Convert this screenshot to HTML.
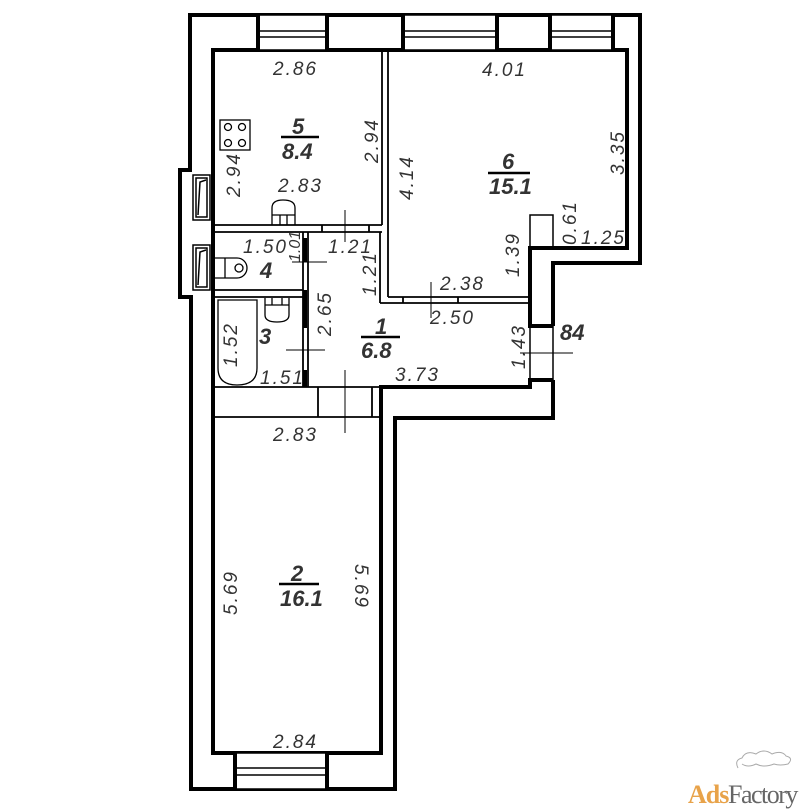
<!DOCTYPE html>
<html><head><meta charset="utf-8"><style>
html,body{margin:0;padding:0;background:#fff;}
svg{display:block;}
text{font-family:"Liberation Sans",sans-serif;font-style:italic;fill:#333;}
.d{font-size:19px;letter-spacing:2px;}
.n{font-size:22px;font-weight:bold;fill:#111;}
</style></head><body>
<svg width="811" height="811" viewBox="0 0 811 811" xmlns="http://www.w3.org/2000/svg">
<g fill="none" stroke="#000" stroke-linejoin="miter">
<!-- outer contour -->
<path d="M553,326 V263 H640 V15 H190 V170 H180 V297 H191 V789 H395 V418 H553 V380" stroke-width="4"/>
<!-- inner contour -->
<path d="M553,326 H530 V248 H627 V50 H213 V753 H381 V387 H530 V380 H553" stroke-width="4"/>
<line x1="530" y1="326" x2="530" y2="380" stroke-width="1.5"/>
<line x1="553" y1="326" x2="553" y2="380" stroke-width="1.5"/>
<rect x="530" y="215" width="23" height="33" stroke-width="1.5"/>
<!-- windows top -->
<g stroke-width="1.5">
<rect x="258" y="15" width="69" height="35" fill="#fff"/>
<line x1="258" y1="31" x2="327" y2="31"/><line x1="258" y1="37" x2="327" y2="37"/>
<rect x="403" y="15" width="94" height="35" fill="#fff"/>
<line x1="403" y1="31" x2="497" y2="31"/><line x1="403" y1="37" x2="497" y2="37"/>
<rect x="550" y="15" width="63" height="35" fill="#fff"/>
<line x1="550" y1="31" x2="613" y2="31"/><line x1="550" y1="37" x2="613" y2="37"/>
</g>
<g stroke-width="4">
<line x1="258" y1="13" x2="258" y2="52"/><line x1="327" y1="13" x2="327" y2="52"/>
<line x1="403" y1="13" x2="403" y2="52"/><line x1="497" y1="13" x2="497" y2="52"/>
<line x1="550" y1="13" x2="550" y2="52"/><line x1="613" y1="13" x2="613" y2="52"/>
<line x1="327" y1="50" x2="403" y2="50"/><line x1="497" y1="50" x2="550" y2="50"/>
</g>
<!-- bottom window -->
<rect x="235" y="753" width="92" height="36" fill="#fff" stroke-width="1.5"/>
<line x1="235" y1="768" x2="327" y2="768" stroke-width="1.5"/>
<line x1="235" y1="775" x2="327" y2="775" stroke-width="1.5"/>
<line x1="235" y1="751" x2="235" y2="791" stroke-width="4"/>
<line x1="327" y1="751" x2="327" y2="791" stroke-width="4"/>
<!-- radiators -->
<g stroke-width="1.5">
<rect x="193" y="175" width="17" height="45"/><rect x="196" y="178" width="11" height="39"/>
<path d="M198,215 L200,182 L206,180"/>
<rect x="193" y="245" width="17" height="45"/><rect x="196" y="248" width="11" height="39"/>
<path d="M198,285 L200,252 L206,250"/>
</g>
<!-- partitions -->
<g stroke-width="1.8">
<line x1="382" y1="50" x2="382" y2="225"/>
<line x1="388" y1="50" x2="388" y2="297"/>
<line x1="213" y1="225" x2="382" y2="225"/>
<line x1="213" y1="232" x2="308" y2="232"/>
<line x1="308" y1="232" x2="382" y2="232"/>
<line x1="322" y1="225" x2="322" y2="232"/><line x1="369" y1="225" x2="369" y2="232"/>
<line x1="303" y1="232" x2="303" y2="387"/>
<line x1="308" y1="232" x2="308" y2="387"/>
<line x1="213" y1="290" x2="303" y2="290"/>
<line x1="213" y1="297" x2="303" y2="297"/>
<line x1="388" y1="297" x2="530" y2="297"/>
<line x1="380" y1="303" x2="530" y2="303"/>
<line x1="380" y1="232" x2="380" y2="303"/>
<line x1="403" y1="297" x2="403" y2="303"/><line x1="458" y1="297" x2="458" y2="303"/>
<line x1="213" y1="387" x2="381" y2="387"/>
<line x1="213" y1="417" x2="381" y2="417"/>
<line x1="318" y1="387" x2="318" y2="417"/>
<line x1="372" y1="387" x2="372" y2="417"/>
</g>
<g stroke-width="4">
<line x1="305" y1="238" x2="305" y2="262"/>
<line x1="305" y1="290" x2="305" y2="328"/>
<line x1="305" y1="370" x2="305" y2="387"/>
</g>
<!-- tick marks -->
<g stroke-width="1">
<line x1="345" y1="210" x2="345" y2="242"/>
<line x1="292" y1="262" x2="327" y2="262"/>
<line x1="286" y1="350" x2="325" y2="350"/>
<line x1="345" y1="370" x2="345" y2="433"/>
<line x1="431" y1="282" x2="431" y2="318"/>
<line x1="520" y1="353" x2="573" y2="353"/>
</g>
<!-- fixtures -->
<g stroke-width="1.3">
<rect x="220" y="120" width="30" height="30"/>
<circle cx="228" cy="127" r="3.5"/><circle cx="242" cy="127" r="3.5"/>
<circle cx="228" cy="143" r="3.5"/><circle cx="242" cy="143" r="3.5"/>
<path d="M272,225 V208 Q272,200 283,200 Q295,200 295,208 V225"/>
<line x1="272" y1="215" x2="295" y2="215"/><line x1="280" y1="215" x2="280" y2="225"/><line x1="287" y1="215" x2="287" y2="225"/>
<path d="M215,258 H237 A10,10 0 0 1 237,278 H215"/>
<line x1="225" y1="258" x2="225" y2="278"/>
<circle cx="239" cy="268" r="4"/>
<path d="M218,300 H257 V368 Q257,385 237,385 Q218,385 218,368 Z"/>
<path d="M265,298 V315 Q265,322 277,322 Q289,322 289,315 V298"/>
<line x1="265" y1="305" x2="289" y2="305"/><line x1="272" y1="298" x2="272" y2="305"/><line x1="282" y1="298" x2="282" y2="305"/>
</g>
<!-- fraction bars -->
<g stroke-width="2.5">
<line x1="281" y1="137" x2="319" y2="137"/>
<line x1="488" y1="173" x2="530" y2="173"/>
<line x1="361" y1="337" x2="400" y2="337"/>
<line x1="279" y1="584" x2="319" y2="584"/>
</g>
</g>
<!-- labels -->
<g class="d">
<text x="273" y="75">2.86</text>
<text x="482" y="76">4.01</text>
<text x="278" y="192">2.83</text>
<text x="328" y="253">1.21</text>
<text x="243" y="253">1.50</text>
<text x="440" y="290">2.38</text>
<text x="430" y="324">2.50</text>
<text x="260" y="384">1.51</text>
<text x="395" y="381">3.73</text>
<text x="273" y="441">2.83</text>
<text x="581" y="244">1.25</text>
<text x="273" y="748">2.84</text>
<text transform="translate(378,163) rotate(-90)">2.94</text>
<text transform="translate(240,197) rotate(-90)">2.94</text>
<text transform="translate(413,200) rotate(-90)">4.14</text>
<text transform="translate(624,175) rotate(-90)">3.35</text>
<text transform="translate(576,245) rotate(-90)">0.61</text>
<text transform="translate(519,277) rotate(-90)">1.39</text>
<text transform="translate(376,296) rotate(-90)">1.21</text>
<text transform="translate(300,262) rotate(-90)" style="font-size:16px;letter-spacing:0">1.01</text>
<text transform="translate(331,336) rotate(-90)">2.65</text>
<text transform="translate(237,367) rotate(-90)">1.52</text>
<text transform="translate(525,369) rotate(-90)">1.43</text>
<text transform="translate(237,615) rotate(-90)">5.69</text>
<text transform="translate(355,564) rotate(90)">5.69</text>
</g>
<g class="n">
<text x="292" y="134">5</text><text x="282" y="159">8.4</text>
<text x="502" y="169">6</text><text x="489" y="194">15.1</text>
<text x="260" y="278">4</text>
<text x="259" y="344">3</text>
<text x="375" y="334">1</text><text x="361" y="358">6.8</text>
<text x="291" y="581">2</text><text x="280" y="606">16.1</text>
<text x="560" y="340">84</text>
</g>
<!-- logo -->
<path d="M738,768 q-4,-8 4,-10 q4,-8 14,-4 q8,-6 16,0 q10,-4 14,2 q8,2 2,8 q-8,2 -14,0 q-10,4 -18,0 q-8,4 -14,0" fill="none" stroke="#aaa" stroke-width="1"/>
<text x="688" y="803" style="font-family:'Liberation Serif',serif;font-style:normal;font-size:26px;font-weight:bold;fill:#e8a34a;letter-spacing:-1px">Ads</text>
<text x="728" y="803" style="font-family:'Liberation Serif',serif;font-style:normal;font-size:26px;fill:#666;letter-spacing:-1.5px">Factory</text>
</svg>
</body></html>
